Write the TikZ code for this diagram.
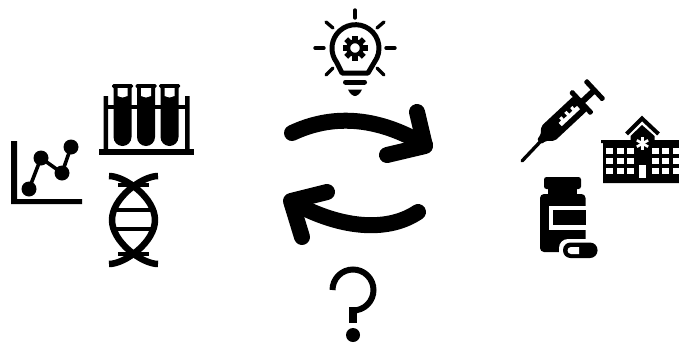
\documentclass[tikz,border=0pt]{standalone}
\begin{document}
\begin{tikzpicture}[x=1pt,y=-1pt,
  ink/.style={draw=black,line cap=round,line join=round},
  cyc/.style={ink,line width=16pt}]
\useasboundingbox[fill=white] (0,0) rectangle (679,343);
% chart
\fill[black] (11,141) rectangle (17,204) (11,199) rectangle (82,204);
\draw[black,line width=3.6pt] (29,189) -- (41,158) -- (62,173) -- (71,147);
\foreach \p in {(29,189),(41,158),(62,173),(71,147)} \fill[black] \p circle (7.5);
% test tubes
\fill[black] (99,148.5) rectangle (194,155);
\fill[black] (103.5,96) rectangle (108,150) (185,96) rectangle (189.5,150);
\fill[black] (104,104.5) rectangle (189,108.5);
\foreach \x in {122.5,146,169.5}{
  \fill[black,rounded corners=1.5pt] (\x-10.5,84) rectangle (\x+10.5,88);
  \fill[black] (\x-9,87) -- (\x+9,87) -- (\x+9,137) arc[start angle=0,end angle=180,radius=9] -- cycle;
  \fill[white] (\x-5,88) -- (\x+5,88) -- (\x+5,96) -- (\x,97.5) -- (\x-5,96) -- cycle;
}
% dna
\draw[ink,line cap=butt,line width=6.5pt] (109,176) .. controls (125,176) and (155,198) .. (155,220) .. controls (155,242) and (125,264) .. (109,264);
\draw[ink,line cap=butt,line width=6.5pt] (158,176) .. controls (142,176) and (112,198) .. (112,220) .. controls (112,242) and (142,264) .. (158,264);
\foreach \y/\a/\b in {185/118/149,210/114/153,229/114/153,254/118/149}
  \fill[black] (\a,\y-2.4) rectangle (\b,\y+2.4);
% bulb
\foreach \a/\b/\c/\d in {355/10/355/18,315/48/324/48,386/48/395/48,326/22/333/28,384/22/377/28,326/75/333/68,384/75/377/68}
  \draw[ink,line width=3.4pt] (\a,\b) -- (\c,\d);
\draw[ink,line width=5pt] (342,73) -- (368,73) -- (374.5,62) arc[start angle=36,end angle=-216,radius=23.5] -- cycle;
\draw[black,line width=4pt] (355,48) circle (6.8);
\foreach \a in {0,45,...,315}
  \fill[black,rotate around={\a:(355,48)}] (352.3,35.5) rectangle (357.7,41);
\draw[ink,line width=5pt] (345.5,82) -- (364.5,82);
\fill[black] (348,89.5) -- (362,89.5) .. controls (360,94) and (357,96) .. (355,96) .. controls (353,96) and (350,94) .. (348,89.5) -- cycle;
% cycle arrows
\draw[cyc] (292,133) .. controls (330,115) and (375,115) .. (425,145);
\draw[cyc] (417,112) -- (425,146) -- (387,155);
\draw[cyc] (418,212) .. controls (390,231) and (345,231) .. (292,202);
\draw[cyc] (302,237) -- (291,201) -- (327,192);
% question mark
\draw[black,line width=6pt] (332.5,290) arc[start angle=180,end angle=450,radius=20.5];
\fill[black] (349,307) rectangle (357,323);
\fill[black] (353,335) circle (7);
% syringe
\draw[ink,line width=3.4pt] (522,161) -- (540,142);
\begin{scope}[shift={(540,141)},rotate=43]
  \fill[black,rounded corners=2pt] (-1,-3.5) -- (4,-3.5) -- (11,-10) -- (55,-10) -- (55,10) -- (11,10) -- (4,3.5) -- (-1,3.5) -- cycle;
  \fill[black,rounded corners=1.2pt] (54,-15.5) rectangle (59,15.5);
  \fill[black] (58,-3) rectangle (74,3);
  \fill[black,rounded corners=1.2pt] (72,-13.5) rectangle (77,13.5);
  \fill[white] (26,4) -- (51,4) -- (51,-0.5) -- (47.5,-0.5) -- (47.5,-3.5) -- (44.5,-3.5) -- (44.5,0) -- (40,0) -- (40,-4) -- (37,-4) -- (37,0) -- (32.5,0) -- (32.5,-3.5) -- (29.5,-3.5) -- (29.5,-0.5) -- (26,-0.5) -- cycle;
\end{scope}
% hospital
\draw[black,line width=4pt,miter limit=6] (626.5,134) -- (642,118.5) -- (658.5,134);
\fill[black] (601,140) rectangle (679,143) (603,141) rectangle (679,183);
\fill[black] (630.5,141) -- (630.5,136) -- (642,125) -- (654.5,136) -- (654.5,141) -- cycle;
\foreach \x/\w in {606/7,617/6.5,627/7,652/6.5,662/7,673/6}
  \foreach \y in {148,158,168}
    \fill[white] (\x,\y) rectangle (\x+\w,\y+6);
\fill[white] (639,165) rectangle (646,178);
\foreach \a in {0,60,120}
  \fill[white,rotate around={\a:(642.5,143.5)}] (641.2,137) rectangle (643.8,150);
% bottle
\fill[black,rounded corners=2.5pt] (544,177) rectangle (581,189);
\fill[black] (548,188) rectangle (577,196);
\fill[black,rounded corners=4pt] (540,194) rectangle (585.5,252);
\fill[white] (548.5,206) rectangle (585.5,229.5);
\fill[black] (552.5,210) rectangle (585.5,225);
\fill[white,rounded corners=9pt] (559,239) rectangle (600,262);
\fill[black,rounded corners=7.5pt] (563,242.5) rectangle (597.5,258);
\fill[white] (579,247) -- (571,247) arc[start angle=270,end angle=90,radius=3.5] -- (579,254) -- cycle;
\end{tikzpicture}
\end{document}
